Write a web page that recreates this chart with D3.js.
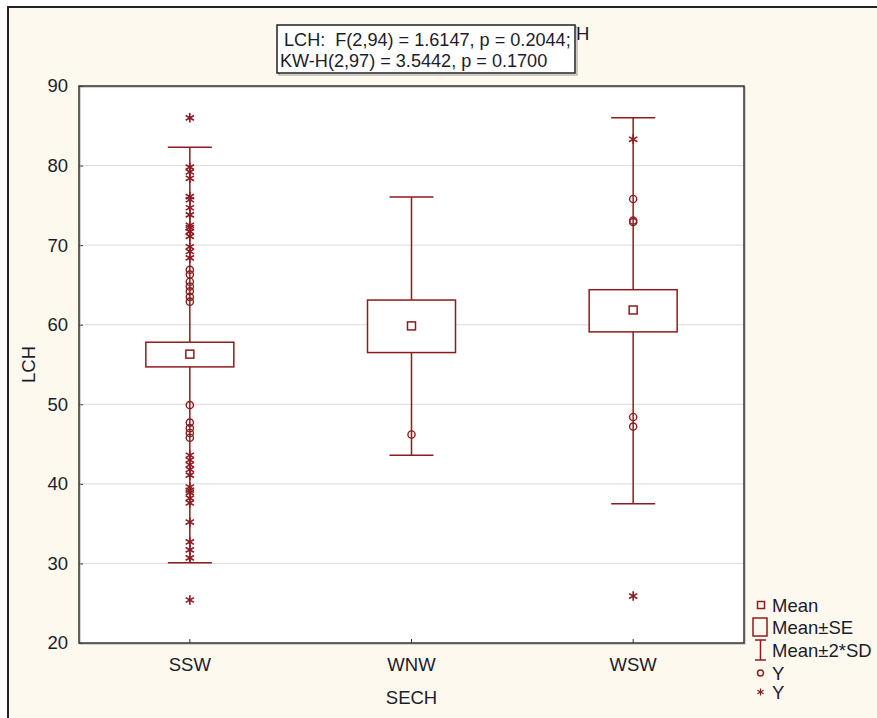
<!DOCTYPE html>
<html lang="en">
  <head>
    <meta charset="UTF-8" />
    <title>LCH by SECH</title>
    <style>

      body {
        margin: 0;
        background: #fff;
      }

      text {
        font-family: "Liberation Sans", Arial, sans-serif;
        fill: #1c1c2c;
      }

      .grid line {
        stroke: #dcdcdc;
        stroke-width: 1px;
      }

      .mark {
        fill: none;
        stroke: #8e1b1f;
        stroke-width: 1.5px;
      }

    </style>
  </head>

  <body>

    <script src="https://cdn.jsdelivr.net/npm/d3@7/dist/d3.min.js"></script>
    <script>

      // Data...

      var categories = ["SSW", "WNW", "WSW"];

      var means  = [56.3, 59.85, 61.85];
      var seLow  = [54.7, 56.5, 59.1];
      var seHigh = [57.8, 63.1, 64.4];
      var sdLow  = [30.1, 43.6, 37.5];
      var sdHigh = [82.3, 76.05, 86.0];

      // Individual points drawn as circles
      var circlePoints = [
        { cat: "SSW", values: [66.9, 66.3, 65.4, 64.8, 64.2, 63.5, 62.9,
                               49.9, 47.7, 47.0, 46.4, 45.8] },
        { cat: "WNW", values: [46.2] },
        { cat: "WSW", values: [75.8, 72.9, 73.1, 48.4, 47.2] }
      ];

      // Individual points drawn as asterisks
      var starPoints = [
        { cat: "SSW", values: [86.0, 79.8, 79.2, 78.4, 76.1, 75.7, 74.7, 73.8,
                               72.5, 72.2, 71.7, 71.1, 69.8, 69.2, 68.4,
                               43.6, 43.0, 42.4, 41.8, 41.1, 39.6, 39.2, 38.9,
                               38.2, 37.6, 35.2, 32.7, 31.7, 30.7, 25.4] },
        { cat: "WNW", values: [] },
        { cat: "WSW", values: [83.3, 25.9] }
      ];

      var yTicks = [20, 30, 40, 50, 60, 70, 80, 90];

      var titleLines = ["LCH:  F(2,94) = 1.6147, p = 0.2044;",
                        "KW-H(2,97) = 3.5442, p = 0.1700"];

      var legendLabels = ["Mean", "Mean\u00b1SE", "Mean\u00b12*SD", "Y", "Y"];


      // SVG...

      var w = 877,
          h = 718;

      var margin = { top: 86, right: 133, bottom: 75, left: 79 };
      var pw = w - margin.left - margin.right,
          ph = h - margin.top - margin.bottom;

      var fontSize = "18.5px";

      var svg = d3.select("body").append("svg")
        .attr("width", w)
        .attr("height", h);

      // Cream page with an outer frame
      svg.append("rect")
        .attr("x", 8)
        .attr("y", 7)
        .attr("width", w + 20)
        .attr("height", h + 20)
        .attr("fill", "#fef9ee")
        .attr("stroke", "#222")
        .attr("stroke-width", 2);


      // Scales...

      var xScale = d3.scaleBand()
        .domain(categories)
        .range([0, pw]);

      var yScale = d3.scaleLinear()
        .domain([20, 90])
        .range([ph, 0]);

      var g = svg.append("g")
        .attr("transform", "translate(" + margin.left + "," + margin.top + ")");

      // Plot background
      g.append("rect")
        .attr("width", pw)
        .attr("height", ph)
        .attr("fill", "#fff");

      // Grid lines
      g.append("g")
        .attr("class", "grid")
        .selectAll("line")
        .data(yTicks.slice(1, -1))
        .enter()
        .append("line")
        .attr("x1", 0)
        .attr("x2", pw)
        .attr("y1", function(d) { return yScale(d); })
        .attr("y2", function(d) { return yScale(d); });


      // Axes...

      var yAxis = d3.axisLeft(yScale)
        .tickValues(yTicks)
        .tickSizeInner(-4)
        .tickSizeOuter(0)
        .tickPadding(11);

      var xAxis = d3.axisBottom(xScale)
        .tickSizeInner(-4)
        .tickSizeOuter(0)
        .tickPadding(15);

      var ya = g.append("g").call(yAxis);
      var xa = g.append("g")
        .attr("transform", "translate(0," + ph + ")")
        .call(xAxis);

      [ya, xa].forEach(function(a) {
        a.select(".domain").remove();
        a.selectAll("line").attr("stroke", "#333");
        a.selectAll("text")
          .attr("fill", "#1c1c2c")
          .style("font-size", fontSize)
          .style("font-family", "'Liberation Sans', Arial, sans-serif");
      });

      // Plot frame with a light shadow
      g.append("rect")
        .attr("x", 1)
        .attr("y", 1)
        .attr("width", pw)
        .attr("height", ph)
        .attr("fill", "none")
        .attr("stroke", "#aaa")
        .attr("stroke-width", 1);

      g.append("rect")
        .attr("width", pw)
        .attr("height", ph)
        .attr("fill", "none")
        .attr("stroke", "#333")
        .attr("stroke-width", 1.5);

      // Axis titles
      svg.append("text")
        .attr("transform", "translate(35," + (margin.top + ph / 2) + ") rotate(-90)")
        .attr("text-anchor", "middle")
        .style("font-size", fontSize)
        .text("LCH");

      svg.append("text")
        .attr("x", margin.left + pw / 2)
        .attr("y", 704)
        .attr("text-anchor", "middle")
        .style("font-size", fontSize)
        .text("SECH");


      // Boxes and whiskers...

      var cx = function(c) { return xScale(c) + xScale.bandwidth() / 2; };
      var boxW = 88,
          capW = 44,
          meanS = 8;

      var groups = g.selectAll(".cat")
        .data(categories)
        .enter()
        .append("g")
        .attr("class", "cat");

      // Whisker (mean +- 2 SD)
      groups.append("line")
        .attr("class", "mark")
        .attr("x1", function(d) { return cx(d); })
        .attr("x2", function(d) { return cx(d); })
        .attr("y1", function(d, i) { return yScale(sdHigh[i]); })
        .attr("y2", function(d, i) { return yScale(sdLow[i]); });

      ["top", "bottom"].forEach(function(end) {
        groups.append("line")
          .attr("class", "mark")
          .attr("x1", function(d) { return cx(d) - capW / 2; })
          .attr("x2", function(d) { return cx(d) + capW / 2; })
          .attr("y1", function(d, i) { return yScale(end == "top" ? sdHigh[i] : sdLow[i]); })
          .attr("y2", function(d, i) { return yScale(end == "top" ? sdHigh[i] : sdLow[i]); });
      });

      // Box (mean +- SE)
      groups.append("rect")
        .attr("class", "mark")
        .style("fill", "#fff")
        .attr("x", function(d) { return cx(d) - boxW / 2; })
        .attr("width", boxW)
        .attr("y", function(d, i) { return yScale(seHigh[i]); })
        .attr("height", function(d, i) { return yScale(seLow[i]) - yScale(seHigh[i]); });

      // Mean square
      groups.append("rect")
        .attr("class", "mark")
        .attr("x", function(d) { return cx(d) - meanS / 2; })
        .attr("y", function(d, i) { return yScale(means[i]) - meanS / 2; })
        .attr("width", meanS)
        .attr("height", meanS);


      // Points...

      var circles = [];
      circlePoints.forEach(function(s) {
        s.values.forEach(function(v) { circles.push({ cat: s.cat, v: v }); });
      });

      var stars = [];
      starPoints.forEach(function(s) {
        s.values.forEach(function(v) { stars.push({ cat: s.cat, v: v }); });
      });

      g.selectAll(".pt-circle")
        .data(circles)
        .enter()
        .append("circle")
        .attr("class", "mark pt-circle")
        .style("stroke-width", "1.4px")
        .attr("cx", function(d) { return cx(d.cat); })
        .attr("cy", function(d) { return yScale(d.v); })
        .attr("r", 3.6);

      var star = d3.symbol().type(d3.symbolAsterisk).size(64);

      g.selectAll(".pt-star")
        .data(stars)
        .enter()
        .append("path")
        .attr("class", "mark pt-star")
        .style("stroke-width", "1.6px")
        .attr("transform", function(d) {
          return "translate(" + cx(d.cat) + "," + yScale(d.v) + ")";
        })
        .attr("d", star);


      // Title box...

      svg.append("text")
        .attr("x", 576)
        .attr("y", 40)
        .style("font-size", fontSize)
        .text("H");

      svg.append("rect")
        .attr("x", 279)
        .attr("y", 27)
        .attr("width", 298)
        .attr("height", 48)
        .attr("fill", "none")
        .attr("stroke", "#999")
        .attr("stroke-width", 1);

      svg.append("rect")
        .attr("x", 277)
        .attr("y", 25)
        .attr("width", 298)
        .attr("height", 48)
        .attr("fill", "#fff")
        .attr("stroke", "#222")
        .attr("stroke-width", 1.5);

      svg.selectAll(".title-line")
        .data(titleLines)
        .enter()
        .append("text")
        .attr("class", "title-line")
        .attr("x", function(d, i) { return i == 0 ? 284 : 280; })
        .attr("y", function(d, i) { return 46 + i * 21; })
        .style("font-size", "18.1px")
        .style("white-space", "pre")
        .text(function(d) { return d; });


      // Legend...

      var legend = svg.append("g")
        .attr("transform", "translate(752,0)");

      var ly = [605, 627, 650, 673, 692];

      legend.selectAll("text")
        .data(legendLabels)
        .enter()
        .append("text")
        .attr("x", 20)
        .attr("y", function(d, i) { return ly[i] + 7; })
        .style("font-size", fontSize)
        .text(function(d) { return d; });

      legend.append("rect")
        .attr("class", "mark")
        .attr("x", 5.5).attr("y", ly[0] - 3.5)
        .attr("width", 7).attr("height", 7);

      legend.append("rect")
        .attr("class", "mark")
        .attr("x", 1).attr("y", ly[1] - 9)
        .attr("width", 14).attr("height", 18);

      legend.append("path")
        .attr("class", "mark")
        .attr("d", "M3," + (ly[2] - 10) + "H14M8.5," + (ly[2] - 10) +
                   "V" + (ly[2] + 10) + "M3," + (ly[2] + 10) + "H14");

      legend.append("circle")
        .attr("class", "mark")
        .attr("cx", 8.5).attr("cy", ly[3])
        .attr("r", 3);

      legend.append("path")
        .attr("class", "mark")
        .style("stroke-width", "1.2px")
        .attr("transform", "translate(8.5," + ly[4] + ")")
        .attr("d", d3.symbol().type(d3.symbolAsterisk).size(36));

    </script>
  </body>
</html>
